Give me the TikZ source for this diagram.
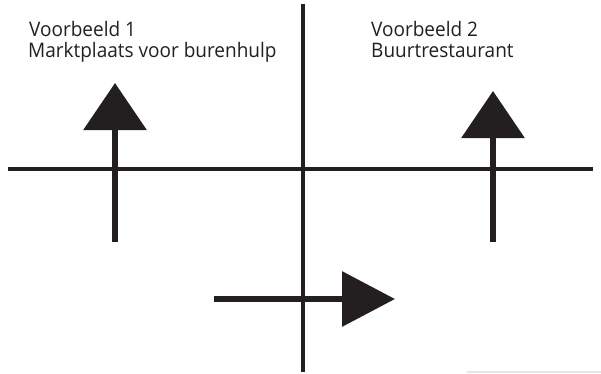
\documentclass[tikz,border=0pt]{standalone}
\usepackage{fontspec}
\setmainfont{Open Sans}
\usetikzlibrary{arrows.meta}
\definecolor{ink}{HTML}{231F20}
\definecolor{strip}{HTML}{E6E6E6}
\begin{document}
\begin{tikzpicture}[x=1pt,y=-1pt,
  axis/.style={draw=ink,line width=3.5pt},
  bigarrow/.style={draw=ink,fill=ink,line width=6.5pt},
  label/.style={anchor=base west,inner sep=0pt,font=\fontsize{20}{22}\selectfont,text=ink,xscale=0.95}]
\useasboundingbox (0,0) rectangle (601,373);
\fill[strip] (467,370.7) rectangle (601,373);
% axes
\coordinate (hl) at (8,169);
\coordinate (hr) at (593,169);
\coordinate (vt) at (303,4);
\coordinate (vb) at (303,372);
\draw[axis] (hl) -- (hr);
\draw[axis] (vt) -- (vb);
% arrows
\coordinate (a1s) at (115,242);
\coordinate (a1e) at (115,83);
\coordinate (a2s) at (493,242);
\coordinate (a2e) at (493,91);
\coordinate (a3s) at (214,299);
\coordinate (a3e) at (395,299);
\draw[bigarrow,-{Triangle[width=62pt,length=47pt]}] (a1s) -- (a1e);
\draw[bigarrow,-{Triangle[width=62pt,length=47pt]}] (a2s) -- (a2e);
\draw[bigarrow,-{Triangle[width=54pt,length=53pt]}] (a3s) -- (a3e);
% labels
\node[label] (t1) at (29,36) {Voorbeeld 1};
\node[label] (t2) at (28,57) {Marktplaats voor burenhulp};
\node[label] (t3) at (371,36) {Voorbeeld 2};
\node[label] (t4) at (371,57) {Buurtrestaurant};
\end{tikzpicture}
\end{document}
